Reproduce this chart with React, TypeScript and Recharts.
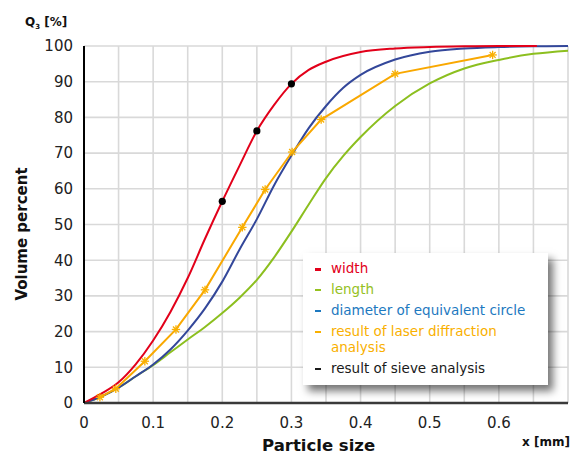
import React from 'react';
import {
  ComposedChart,
  Line,
  XAxis,
  YAxis,
  CartesianGrid,
  Legend,
} from 'recharts';

// particle size [mm] and cumulative volume Q3 [%]
const WIDTH_X = [0, 0.025, 0.05, 0.075, 0.1, 0.125, 0.15, 0.175, 0.2, 0.225, 0.25, 0.275, 0.3, 0.325, 0.35, 0.4, 0.45, 0.5, 0.55, 0.6, 0.655];
const WIDTH_Y = [0, 2.6, 5.8, 10.9, 17.5, 25.5, 35, 46, 56.5, 66.5, 76.2, 83.5, 89.4, 93.3, 95.6, 98.3, 99.3, 99.7, 99.9, 100, 100];

const LENGTH_X = [0, 0.025, 0.05, 0.075, 0.1, 0.125, 0.15, 0.175, 0.2, 0.225, 0.25, 0.275, 0.3, 0.325, 0.35, 0.375, 0.4, 0.45, 0.5, 0.55, 0.6, 0.65, 0.7];
const LENGTH_Y = [0, 1.8, 4.3, 7.5, 10.6, 14.2, 17.8, 21.3, 25.2, 29.5, 34.5, 40.8, 48, 55.6, 63, 69.2, 74.5, 83.2, 89.5, 93.7, 96.1, 97.8, 98.7];

const CIRCLE_X = [0, 0.025, 0.05, 0.075, 0.1, 0.125, 0.15, 0.175, 0.2, 0.225, 0.25, 0.275, 0.3, 0.325, 0.35, 0.375, 0.4, 0.45, 0.5, 0.55, 0.6, 0.65, 0.7];
const CIRCLE_Y = [0, 1.8, 4.3, 7.5, 10.8, 15, 20.3, 26.5, 34, 43, 51.5, 61, 69.3, 77, 83.2, 88.3, 91.9, 96.2, 98.4, 99.3, 99.7, 99.9, 100];

const LASER_X = [0.023, 0.046, 0.088, 0.133, 0.175, 0.229, 0.262, 0.301, 0.343, 0.45, 0.591];
const LASER_Y = [1.6, 4.0, 11.7, 20.6, 31.7, 49.2, 59.8, 70.3, 79.4, 92.2, 97.5];

const SIEVE_X = [0.2, 0.25, 0.3];
const SIEVE_Y = [56.5, 76.2, 89.4];

const X_TICKS = [0, 0.05, 0.1, 0.15, 0.2, 0.25, 0.3, 0.35, 0.4, 0.45, 0.5, 0.55, 0.6, 0.65, 0.7];
const X_LABELS = ['0', '', '0.1', '', '0.2', '', '0.3', '', '0.4', '', '0.5', '', '0.6', '', ''];
const Y_TICKS = [0, 10, 20, 30, 40, 50, 60, 70, 80, 90, 100];

const LEGEND_NAMES = ['width', 'length', 'diameter of equivalent circle', 'result of laser diffraction analysis', 'result of sieve analysis'];
const LEGEND_COLORS = ['#e2001a', '#95c11f', '#1d79c0', '#f9b000', '#1a1a1a'];

const FONT = '"DejaVu Sans", Verdana, sans-serif';

const toPoints = (xs: number[], ys: number[]) => xs.map((x, i) => ({ x, y: ys[i] }));

const widthData = toPoints(WIDTH_X, WIDTH_Y);
const lengthData = toPoints(LENGTH_X, LENGTH_Y);
const circleData = toPoints(CIRCLE_X, CIRCLE_Y);
const laserData = toPoints(LASER_X, LASER_Y);
const sieveData = toPoints(SIEVE_X, SIEVE_Y);

// asterisk marker for the laser diffraction points
const StarDot = (props: any) => {
  const { cx, cy, index } = props;
  if (cx == null || cy == null) return null;
  const r = 4.2;
  const d = r * 0.707;
  return (
    <g key={`star-${index}`} stroke="#f9b000" strokeWidth={1.3}>
      <line x1={cx - r} y1={cy} x2={cx + r} y2={cy} />
      <line x1={cx} y1={cy - r} x2={cx} y2={cy + r} />
      <line x1={cx - d} y1={cy - d} x2={cx + d} y2={cy + d} />
      <line x1={cx - d} y1={cy + d} x2={cx + d} y2={cy - d} />
    </g>
  );
};

const LegendBox = () => (
  <div
    style={{
      background: '#fff',
      width: 245,
      height: 132,
      boxSizing: 'border-box',
      padding: '8px 0 0 12px',
      boxShadow: '5px 6px 8px rgba(0,0,0,0.55)',
      fontFamily: FONT,
      fontSize: 13.5,
      lineHeight: '15.6px',
    }}
  >
    {LEGEND_NAMES.map((name, i) => (
      <div key={name} style={{ display: 'flex', marginBottom: 5.4, color: LEGEND_COLORS[i] }}>
        <span style={{ width: 16, flex: 'none', display: 'flex', alignItems: 'flex-start' }}>
          <span style={{ display: 'block', width: 6, height: 2.5, marginTop: 7, background: LEGEND_COLORS[i] }} />
        </span>
        <span style={{ maxWidth: 212 }}>{name}</span>
      </div>
    ))}
  </div>
);

export default function App() {
  return (
    <div style={{ position: 'fixed', left: 0, top: 0, width: 588, height: 455, background: '#fff', overflow: 'hidden' }}>
      <ComposedChart width={588} height={455} margin={{ top: 46, right: 20, bottom: 22, left: 0 }}>
        <CartesianGrid stroke="#d9d9d9" strokeWidth={1.6} />
        <XAxis
          type="number"
          dataKey="x"
          domain={[0, 0.7]}
          ticks={X_TICKS}
          tickFormatter={(v: number) => X_LABELS[X_TICKS.indexOf(v)] ?? ''}
          tickLine={false}
          tickMargin={8}
          height={30}
          axisLine={{ stroke: '#3a3a3a', strokeWidth: 2.5 }}
          tick={{ fontSize: 15, fontFamily: FONT, fill: '#222' }}
          interval={0}
        />
        <YAxis
          type="number"
          domain={[0, 100]}
          ticks={Y_TICKS}
          tickLine={false}
          tickMargin={5}
          width={84}
          axisLine={{ stroke: '#000', strokeWidth: 2 }}
          tick={{ fontSize: 15, fontFamily: FONT, fill: '#222' }}
          interval={0}
        />
        <Line data={lengthData} dataKey="y" type="monotone" stroke="#8cbf1f" strokeWidth={2} dot={false} isAnimationActive={false} />
        <Line data={circleData} dataKey="y" type="monotone" stroke="#33479a" strokeWidth={2} dot={false} isAnimationActive={false} />
        <Line data={widthData} dataKey="y" type="monotone" stroke="#e2001a" strokeWidth={2} dot={false} isAnimationActive={false} />
        <Line data={laserData} dataKey="y" type="linear" stroke="#f9a800" strokeWidth={2} dot={StarDot} isAnimationActive={false} />
        <Line data={sieveData} dataKey="y" type="linear" stroke="none" dot={{ r: 3.6, fill: '#000', stroke: 'none' }} isAnimationActive={false} />
        <Legend
          layout="vertical"
          align="center"
          verticalAlign="middle"
          content={() => <LegendBox />}
          wrapperStyle={{ left: 303, top: 253, width: 245, height: 132 }}
        />
      </ComposedChart>

      <div style={{ position: 'absolute', left: 25, top: 15, fontFamily: FONT, fontWeight: 'bold', fontSize: 12, color: '#111' }}>
        Q<sub style={{ fontSize: 7 }}>3</sub> [%]
      </div>
      <div
        style={{
          position: 'absolute',
          left: 22,
          top: 234,
          transform: 'translate(-50%, -50%) rotate(-90deg)',
          whiteSpace: 'nowrap',
          fontFamily: FONT,
          fontWeight: 'bold',
          fontSize: 15,
          color: '#111',
        }}
      >
        Volume percent
      </div>
      <div
        style={{
          position: 'absolute',
          left: 262,
          top: 438,
          lineHeight: 1,
          fontFamily: FONT,
          fontWeight: 'bold',
          fontSize: 16.5,
          color: '#111',
          whiteSpace: 'nowrap',
        }}
      >
        Particle size
      </div>
      <div style={{ position: 'absolute', left: 522, top: 435, fontFamily: FONT, fontWeight: 'bold', fontSize: 12, color: '#111', whiteSpace: 'nowrap' }}>
        x [mm]
      </div>
    </div>
  );
}
